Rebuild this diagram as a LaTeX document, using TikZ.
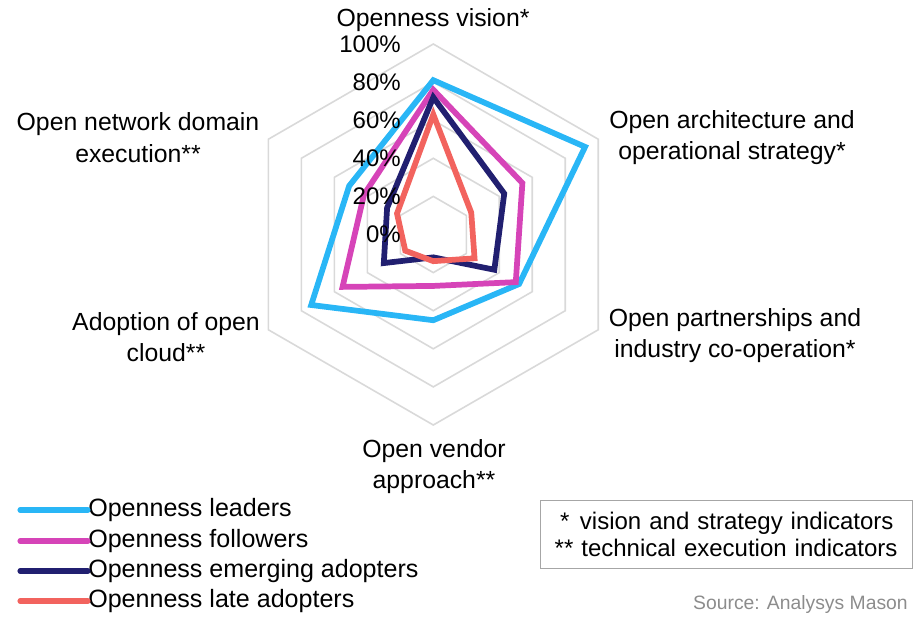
\documentclass[tikz,border=0pt]{standalone}
\usepackage{fontspec}
\setmainfont{Liberation Sans}
\usepackage{tikz}
\definecolor{leadcol}{HTML}{29B6F6}
\definecolor{followcol}{HTML}{D644B8}
\definecolor{emergecol}{HTML}{211F70}
\definecolor{latecol}{HTML}{F2635E}
\definecolor{gridcol}{HTML}{D9D9D9}
\definecolor{boxcol}{HTML}{A6A6A6}
\definecolor{srccol}{HTML}{8C8C8C}
\tikzset{
  gridline/.style={draw=gridcol,line width=1.2pt},
  series/.style={line width=4.3pt,line join=miter},
  legline/.style={line width=3.8pt,line cap=round},
  lbl/.style={font=\fontsize{18.6}{23.5}\selectfont,align=center,inner sep=0pt},
  tick/.style={font=\fontsize{18}{20}\selectfont,anchor=east,inner sep=0pt},
  legtext/.style={font=\fontsize{18.8}{20}\selectfont,anchor=west,inner sep=0pt}
}

\begin{document}
\begin{tikzpicture}[x=0.75pt,y=-0.75pt]
    \useasboundingbox (0,0) rectangle (914,617);
    \def\R{190.5}
    \begin{scope}[shift={(433.3,234.5)}]
      \foreach \r in {1,...,5}
        \draw[gridline] (-90:\r*38.1) -- (-30:\r*38.1) -- (30:\r*38.1) -- (90:\r*38.1) -- (150:\r*38.1) -- (210:\r*38.1) -- cycle;
      \foreach \col/\a/\b/\c/\d/\e/\f in {leadcol/.81/.92/.52/.45/.74/.51, followcol/.76/.54/.50/.27/.55/.42, emergecol/.72/.43/.37/.12/.30/.28, latecol/.63/.23/.25/.14/.17/.22}
        \draw[series,draw=\col] (-90:\a*\R) -- (-30:\b*\R) -- (30:\c*\R) -- (90:\d*\R) -- (150:\e*\R) -- (210:\f*\R) -- cycle;
    \end{scope}
    \foreach \p [count=\i from 0] in {0,20,40,60,80,100}
      \node[tick] (tick\p) at (401,{234.5-\i*38.1}) {\p\%};
    \node[lbl] (vision) at (433,20) {Openness vision*};
    \node[lbl] (arch) at (732,137.5) {Open architecture and\\operational strategy*};
    \node[lbl] (partner) at (735,335.5) {Open partnerships and\\industry co-operation*};
    \node[lbl] (vendor) at (434,466.5) {Open vendor\\approach**};
    \node[lbl] (cloud) at (166,337) {Adoption of open\\cloud**};
    \node[lbl] (domain) at (138,137.5) {Open network domain\\execution**};
    \node[legtext] (leg1) at (88,510) {Openness leaders};
    \node[legtext] (leg2) at (88,541) {Openness followers};
    \node[legtext] (leg3) at (88,571) {Openness emerging adopters};
    \node[legtext] (leg4) at (88,601) {Openness late adopters};
    \draw[legline,leadcol] (leg1.west) -- ++(-68,0);
    \draw[legline,followcol] (leg2.west) -- ++(-68,0);
    \draw[legline,emergecol] (leg3.west) -- ++(-68,0);
    \draw[legline,latecol] (leg4.west) -- ++(-68,0);
    \node[draw=boxcol,line width=1pt,anchor=north west,minimum width=279pt,minimum height=51pt,text width=258pt,inner xsep=10.5pt,align=left,font=\fontsize{18}{20}\selectfont] (notes) at (540,500) {\hspace{4pt}*\hspace{8pt}vision and strategy indicators\\{}** technical execution indicators};
    \node[anchor=east,inner sep=0pt,text=srccol,font=\fontsize{14.5}{16}\selectfont] (source) at (908,604) {Source: Analysys Mason};
\end{tikzpicture}
\end{document}
